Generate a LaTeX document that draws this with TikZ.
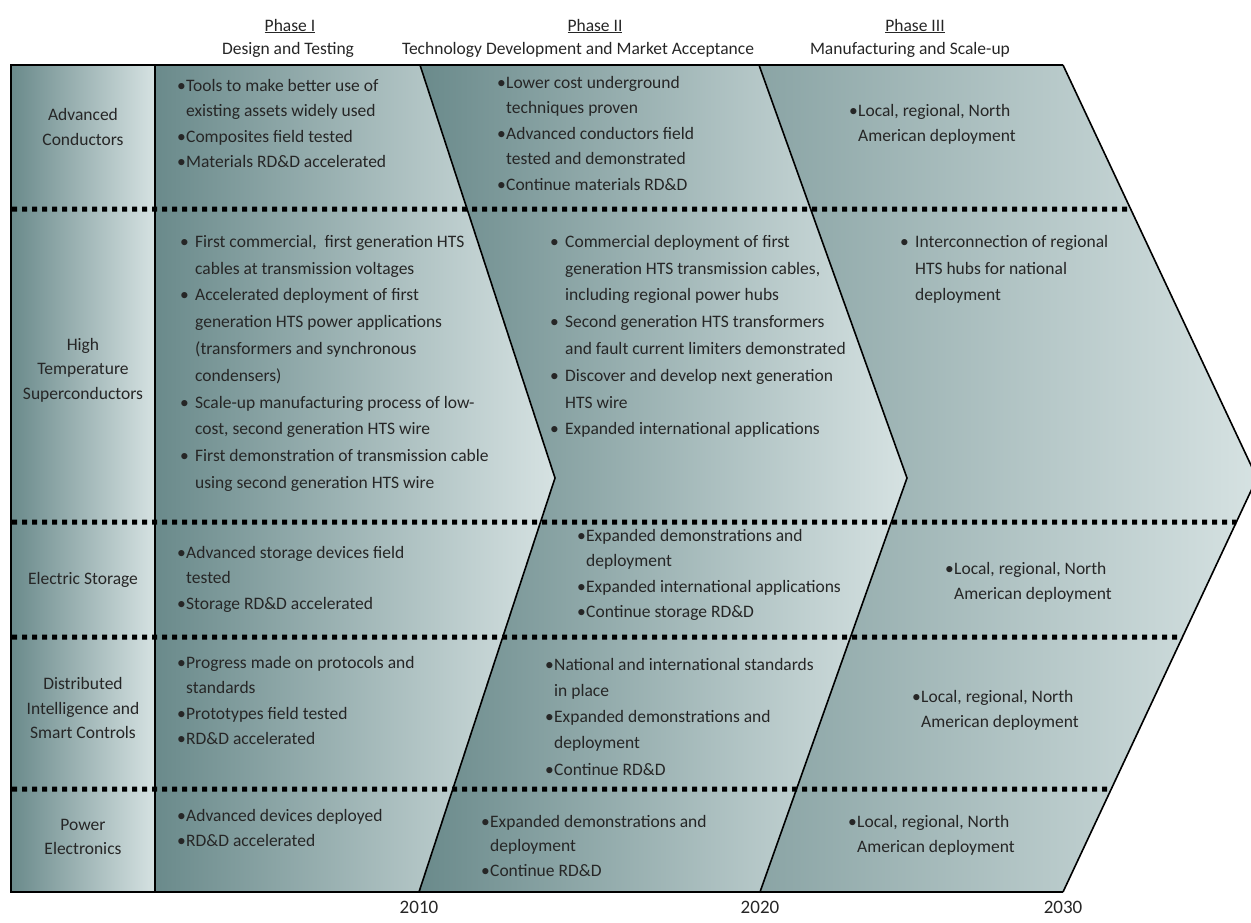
\documentclass[tikz,border=0pt]{standalone}
\usepackage{fontspec}
\setmainfont{Carlito}
\usetikzlibrary{calc}
\definecolor{slatedark}{RGB}{106,138,139}
\definecolor{slatelight}{RGB}{214,226,226}
\definecolor{inkgrey}{RGB}{38,38,38}
% bullet helpers: tight bullets and spaced bullets, with matching hanging indents
\newcommand\bi{\makebox[9pt][l]{\textbullet}}
\newcommand\ci{\hspace*{9pt}}
\newcommand\wbi{\makebox[15pt][l]{\textbullet}}
\newcommand\wci{\hspace*{15pt}}
\begin{document}
\begin{tikzpicture}[x=1pt,y=-1pt,
  frameline/.style={draw=black,line width=1.6pt},
  divider/.style={draw=black,line width=2.4pt},
  rowsep/.style={draw=black,line width=5pt,dash pattern=on 5pt off 5pt},
  fade/.style={left color=slatedark,right color=slatelight},
  softfade/.style={left color=slatedark!70!slatelight,right color=slatelight},
  txt/.style={font=\fontsize{17.5}{25.5}\selectfont,text=inkgrey,inner sep=0pt,align=left,anchor=north west},
  htstxt/.style={txt,font=\fontsize{17.5}{26.8}\selectfont},
  rowlabel/.style={font=\fontsize{17.5}{24.5}\selectfont,text=inkgrey,inner sep=0pt,align=center},
  head/.style={font=\fontsize{17.5}{21}\selectfont,text=inkgrey,inner sep=0pt},
  year/.style={font=\fontsize{19}{21}\selectfont,text=inkgrey,inner sep=0pt}]
\useasboundingbox (0,0) rectangle (1251,922);

% outline points of the frame and the three phase chevrons
\coordinate (frameNW) at (11,65);
\coordinate (frameSW) at (11,892);
\coordinate (colN) at (155,65);
\coordinate (colS) at (155,892);
\coordinate (p1N) at (420,65);
\coordinate (p1T) at (555,478);
\coordinate (p1S) at (419,892);
\coordinate (p2N) at (759,65);
\coordinate (p2T) at (907,478);
\coordinate (p2S) at (760,892);
\coordinate (p3N) at (1063,65);
\coordinate (p3T) at (1257,478);
\coordinate (p3S) at (1063,892);

% shaded areas
\shade[fade] (frameNW) rectangle (colS);
\shade[fade] (colN) -- (p1N) -- (p1T) -- (p1S) -- (colS) -- cycle;
\shade[fade] (p1N) -- (p2N) -- (p2T) -- (p2S) -- (p1S) -- (p1T) -- cycle;
\shade[softfade] (p2N) -- (p3N) -- (p3T) -- (p3S) -- (p2S) -- (p2T) -- cycle;

% row separators
\coordinate (s1L) at (12,209);
\coordinate (s2L) at (12,522);
\coordinate (s3L) at (12,637);
\coordinate (s4L) at (12,789);
\coordinate (s1R) at ($(p3N)!0.3487!(p3T)$);
\coordinate (s2R) at ($(p3T)!0.1063!(p3S)$);
\coordinate (s3R) at ($(p3T)!0.3841!(p3S)$);
\coordinate (s4R) at ($(p3T)!0.7512!(p3S)$);
\draw[rowsep] (s1L) -- (s1R);
\draw[rowsep] (s2L) -- (s2R);
\draw[rowsep] (s3L) -- (s3R);
\draw[rowsep] (s4L) -- (s4R);

% outlines
\draw[frameline] (p3N) -- (frameNW) -- (frameSW) -- (p3S);
\draw[frameline] (p1N) -- (p1T) -- (p1S);
\draw[frameline] (p2N) -- (p2T) -- (p2S);
\draw[frameline] (p3N) -- (p3T) -- (p3S);
\draw[divider] (colN) -- (colS);

% phase headings
\node[head] (ph1) at (290,26) {\underline{Phase I}};
\node[head] (ph1sub) at (288,50) {Design and Testing};
\node[head] (ph2) at (595,26) {\underline{Phase II}};
\node[head] (ph2sub) at (578,50) {Technology Development and Market Acceptance};
\node[head] (ph3) at (915,26) {\underline{Phase III}};
\node[head] (ph3sub) at (910,50) {Manufacturing and Scale-up};

% row labels
\node[rowlabel] (lAC) at (83,127) {Advanced\\Conductors};
\node[rowlabel] (lHTS) at (83,370) {High\\Temperature\\Superconductors};
\node[rowlabel] (lES) at (83,580) {Electric Storage};
\node[rowlabel] (lDI) at (83,708) {Distributed\\Intelligence and\\Smart Controls};
\node[rowlabel] (lPE) at (83,837) {Power\\Electronics};

% Advanced Conductors
\node[txt] (ac1) at (177,79) {\bi Tools to make better use of\\\ci existing assets widely used\\\bi Composites field tested\\\bi Materials RD\&D accelerated};
\node[txt] (ac2) at (497,76) {\bi Lower cost underground\\\ci techniques proven\\\bi Advanced conductors field\\\ci tested and demonstrated\\\bi Continue materials RD\&D};
\node[txt] (ac3) at (849,104) {\bi Local, regional, North\\\ci American deployment};

% High Temperature Superconductors
\node[htstxt] (hts1) at (180,235) {\wbi First commercial,\ \ first generation HTS\\\wci cables at transmission voltages\\\wbi Accelerated deployment of first\\\wci generation HTS power applications\\\wci (transformers and synchronous\\\wci condensers)\\\wbi Scale-up manufacturing process of low-\\\wci cost, second generation HTS wire\\\wbi First demonstration of transmission cable\\\wci using second generation HTS wire};
\node[htstxt] (hts2) at (550,235) {\wbi Commercial deployment of first\\\wci generation HTS transmission cables,\\\wci including regional power hubs\\\wbi Second generation HTS transformers\\\wci and fault current limiters demonstrated\\\wbi Discover and develop next generation\\\wci HTS wire\\\wbi Expanded international applications};
\node[htstxt] (hts3) at (900,235) {\wbi Interconnection of regional\\\wci HTS hubs for national\\\wci deployment};

% Electric Storage
\node[txt] (es1) at (177,546) {\bi Advanced storage devices field\\\ci tested\\\bi Storage RD\&D accelerated};
\node[txt] (es2) at (577,529) {\bi Expanded demonstrations and\\\ci deployment\\\bi Expanded international applications\\\bi Continue storage RD\&D};
\node[txt] (es3) at (945,562) {\bi Local, regional, North\\\ci American deployment};

% Distributed Intelligence and Smart Controls
\node[txt] (di1) at (177,656) {\bi Progress made on protocols and\\\ci standards\\\bi Prototypes field tested\\\bi RD\&D accelerated};
\node[txt,font=\fontsize{17.5}{26.2}\selectfont] (di2) at (545,658) {\bi National and international standards\\\ci in place\\\bi Expanded demonstrations and\\\ci deployment\\\bi Continue RD\&D};
\node[txt] (di3) at (912,690) {\bi Local, regional, North\\\ci American deployment};

% Power Electronics
\node[txt] (pe1) at (177,809) {\bi Advanced devices deployed\\\bi RD\&D accelerated};
\node[txt,font=\fontsize{17.5}{24.5}\selectfont] (pe2) at (481,815) {\bi Expanded demonstrations and\\\ci deployment\\\bi Continue RD\&D};
\node[txt] (pe3) at (848,815) {\bi Local, regional, North\\\ci American deployment};

% timeline years
\node[year] (y2010) at (419,907) {2010};
\node[year] (y2020) at (760,907) {2020};
\node[year] (y2030) at (1063,907) {2030};
\end{tikzpicture}
\end{document}
